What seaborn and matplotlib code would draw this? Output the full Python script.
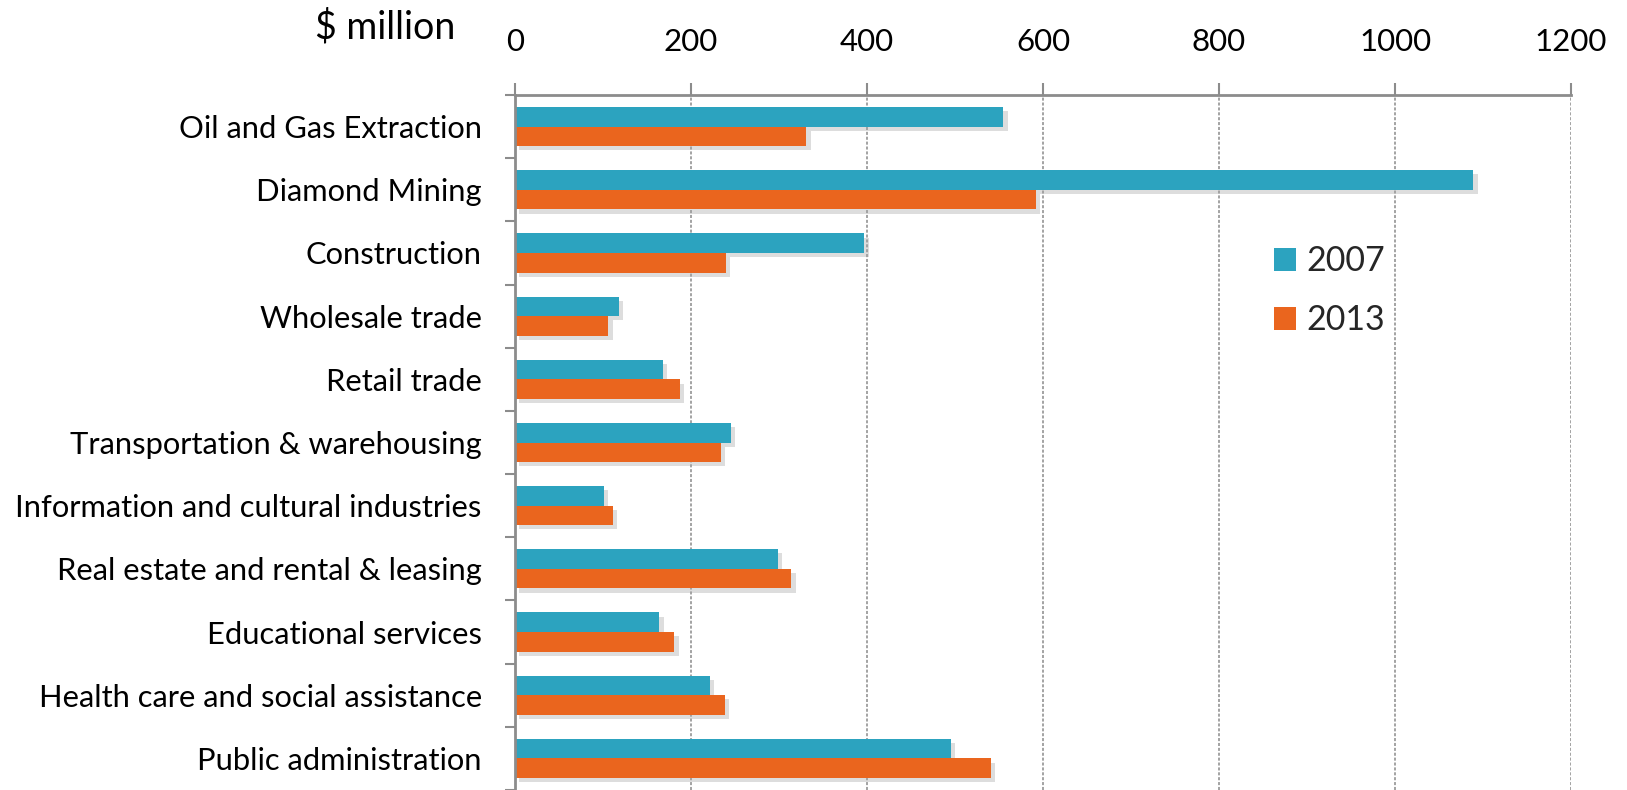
import matplotlib
matplotlib.use("Agg")
import matplotlib.pyplot as plt
import matplotlib.patheffects as pe
from matplotlib.ticker import FixedLocator
import seaborn as sns
import pandas as pd

categories = [
    "Oil and Gas Extraction",
    "Diamond Mining",
    "Construction",
    "Wholesale trade",
    "Retail trade",
    "Transportation & warehousing",
    "Information and cultural industries",
    "Real estate and rental & leasing",
    "Educational services",
    "Health care and social assistance",
    "Public administration",
]
values_2007 = [555, 1089, 397, 118, 168, 245, 101, 299, 164, 221, 495]
values_2013 = [331, 592, 240, 106, 187, 234, 111, 314, 181, 238, 541]
years = ["2007", "2013"]
x_ticks = [0, 200, 400, 600, 800, 1000, 1200]

df = pd.DataFrame({
    "Industry": categories * 2,
    "Value": values_2007 + values_2013,
    "Year": [years[0]] * len(categories) + [years[1]] * len(categories),
})

sns.set_theme(style="white")
plt.rcParams["font.family"] = ["Lato", "DejaVu Sans"]

fig = plt.figure(figsize=(16.27, 7.9), dpi=100)
ax = fig.add_axes([0.3166, 0.0, 0.649, 0.8797])

palette = {"2007": "#2CA3BF", "2013": "#EA651E"}
sns.barplot(data=df, x="Value", y="Industry", hue="Year", order=categories,
            hue_order=years, palette=palette, orient="h", width=0.62,
            saturation=1, ax=ax, legend=True)

shadow = [pe.SimplePatchShadow(offset=(3, -3), shadow_rgbFace="#a0a0a0", alpha=0.35), pe.Normal()]
for p in ax.patches:
    p.set_path_effects(shadow)
    p.set_linewidth(0)

ax.set_xlim(0, 1200)
ax.xaxis.set_major_locator(FixedLocator(x_ticks))
ax.xaxis.tick_top()
ax.xaxis.set_label_position("top")
ax.set_xlabel("")
ax.set_ylabel("")
ax.xaxis.grid(True, linestyle=(0, (2, 1.2)), color="#8a8a8a", linewidth=1.1)
ax.yaxis.grid(False)
ax.set_axisbelow(True)

for s in ["bottom", "right"]:
    ax.spines[s].set_visible(False)
for s in ["top", "left"]:
    ax.spines[s].set_color("#8c8c8c")
    ax.spines[s].set_linewidth(2)

ax.tick_params(axis="x", which="major", top=True, bottom=False, direction="out",
               length=9, width=1.5, color="#8c8c8c", pad=19, labelsize=22.5, labelcolor="black")
ax.yaxis.set_minor_locator(FixedLocator([i - 0.5 for i in range(len(categories) + 1)]))
ax.tick_params(axis="y", which="major", length=0, pad=24, labelsize=22.2, labelcolor="black")
ax.tick_params(axis="y", which="minor", left=True, length=7, width=1.5, color="#8c8c8c", direction="out")

fig.text(455 / 1627, 1 - 27 / 790, "$ million", ha="right", va="center", fontsize=27, color="black")

handles, labels = ax.get_legend_handles_labels()
for h in handles:
    h.set_path_effects([])
ax.legend(handles, labels, loc="upper left", bbox_to_anchor=(1274 / 1627, 1 - 245 / 790),
          bbox_transform=fig.transFigure, frameon=False, fontsize=24.5,
          handlelength=0.66, handleheight=0.66, handletextpad=0.3, labelspacing=0.8,
          borderpad=0, borderaxespad=0)

fig.savefig("out.png", dpi=100)
